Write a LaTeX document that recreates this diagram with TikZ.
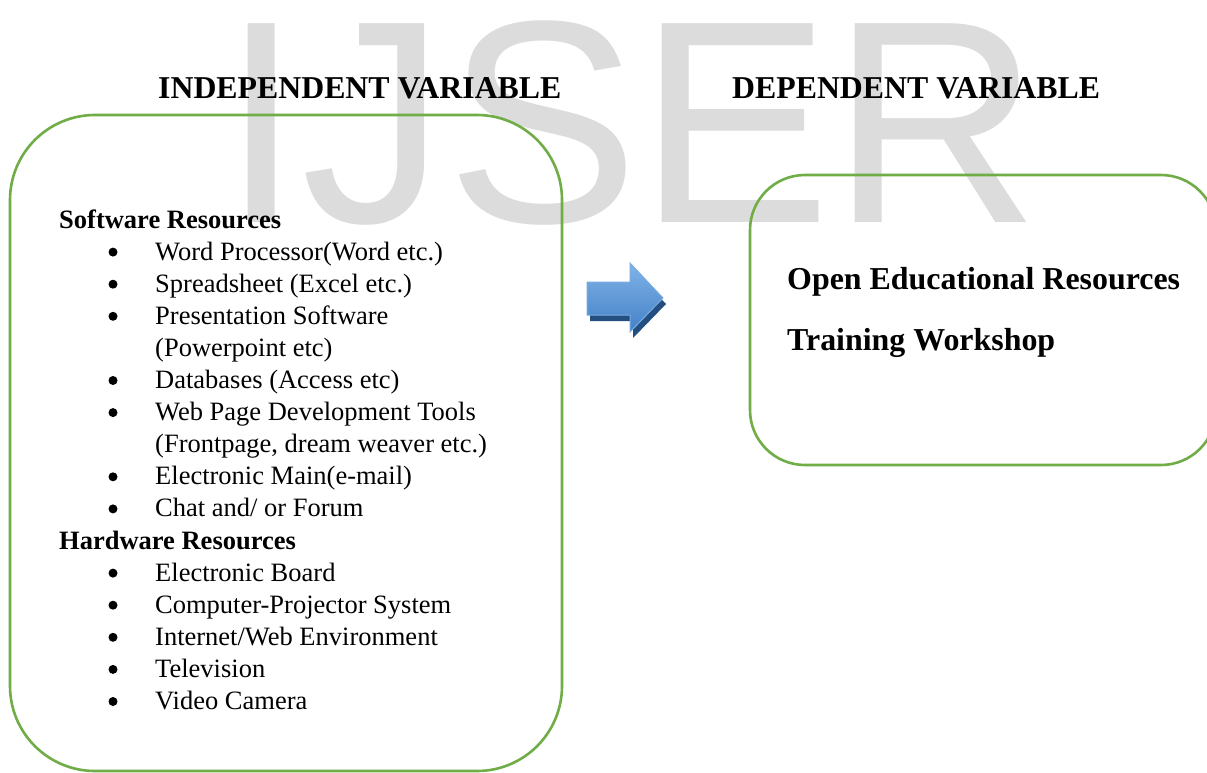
\documentclass[tikz,border=0pt]{standalone}
\usepackage{fontspec}
\setmainfont{Liberation Serif}
\newfontfamily\marksans{Liberation Sans}
\definecolor{boxgreen}{HTML}{70AD47}
\definecolor{markgray}{HTML}{DCDCDC}
\definecolor{arrowtop}{RGB}{128,180,232}
\definecolor{arrowbottom}{RGB}{68,128,198}
\definecolor{arrowedge}{RGB}{120,172,226}
\definecolor{arrowshade}{RGB}{34,78,128}
\begin{document}
\begin{tikzpicture}[x=1pt,y=-1pt,
  frame/.style={draw=boxgreen, line width=2.6pt, rounded corners=#1, inner sep=0pt},
  heading/.style={anchor=base west, inner sep=0pt, font=\fontsize{31.8}{38}\selectfont\bfseries},
  group/.style={anchor=base west, inner sep=0pt, font=\fontsize{26.5}{32}\selectfont\bfseries},
  item/.style={anchor=base west, inner sep=0pt, font=\fontsize{26.5}{32}\selectfont},
  bigitem/.style={anchor=base west, inner sep=0pt, font=\fontsize{31.9}{38}\selectfont\bfseries},
  dot/.style={circle, fill=black, inner sep=0pt, minimum size=9pt},
]
\useasboundingbox (0,0) rectangle (1207,773);
\fill[white] (0,0) rectangle (1207,773);

% watermark
\node[anchor=base west, inner sep=0pt, text=markgray,
      font=\fontsize{289}{289}\selectfont\marksans] (mark) at (221,222) {IJSER};

% headings
\node[heading] (hindep) at (158,99) {INDEPENDENT VARIABLE};
\node[heading] (hdep) at (732,99) {DEPENDENT VARIABLE};

% frames
\node[frame=85pt, minimum width=552pt, minimum height=656pt] (indep) at (286,443) {};
\node[frame=55pt, minimum width=466pt, minimum height=290pt] (dep) at (983,320) {};

% block arrow with its drop shadow
\fill[arrowshade] (590,288) -- (633,288) -- (633,269) -- (666,304) -- (633,338)
  -- (633,321) -- (590,321) -- cycle;
\shade[top color=arrowtop, bottom color=arrowbottom, draw=arrowedge, line width=1pt]
  (587,282) -- (630,282) -- (630,263) -- (663,298) -- (630,332)
  -- (630,315) -- (587,315) -- cycle;

% software resources
\node[group] (soft) at (59,228) {Software Resources};
\node[item] (s1) at (155,260.1) {Word Processor(Word etc.)};
\node[item] (s2) at (155,292.2) {Spreadsheet (Excel etc.)};
\node[item] (s3) at (155,324.3) {Presentation Software};
\node[item] (s3b) at (155,356.4) {(Powerpoint etc)};
\node[item] (s4) at (155,388.5) {Databases (Access etc)};
\node[item] (s5) at (155,420.6) {Web Page Development Tools};
\node[item] (s5b) at (155,452.7) {(Frontpage, dream weaver etc.)};
\node[item] (s6) at (155,484.8) {Electronic Main(e-mail)};
\node[item] (s7) at (155,516.9) {Chat and/ or Forum};

% hardware resources
\node[group] (hard) at (59,549) {Hardware Resources};
\node[item] (h1) at (155,581.1) {Electronic Board};
\node[item] (h2) at (155,613.2) {Computer-Projector System};
\node[item] (h3) at (155,645.3) {Internet/Web Environment};
\node[item] (h4) at (155,677.4) {Television};
\node[item] (h5) at (155,709.5) {Video Camera};

% bullets
\foreach \b in {260.1,292.2,324.3,388.5,420.6,484.8,516.9,581.1,613.2,645.3,677.4,709.5}
  \node[dot] at (113,\b-8) {};

% dependent variable contents
\node[bigitem] (oer) at (787,289) {Open Educational Resources};
\node[bigitem] (tw) at (787,350) {Training Workshop};
\end{tikzpicture}
\end{document}
